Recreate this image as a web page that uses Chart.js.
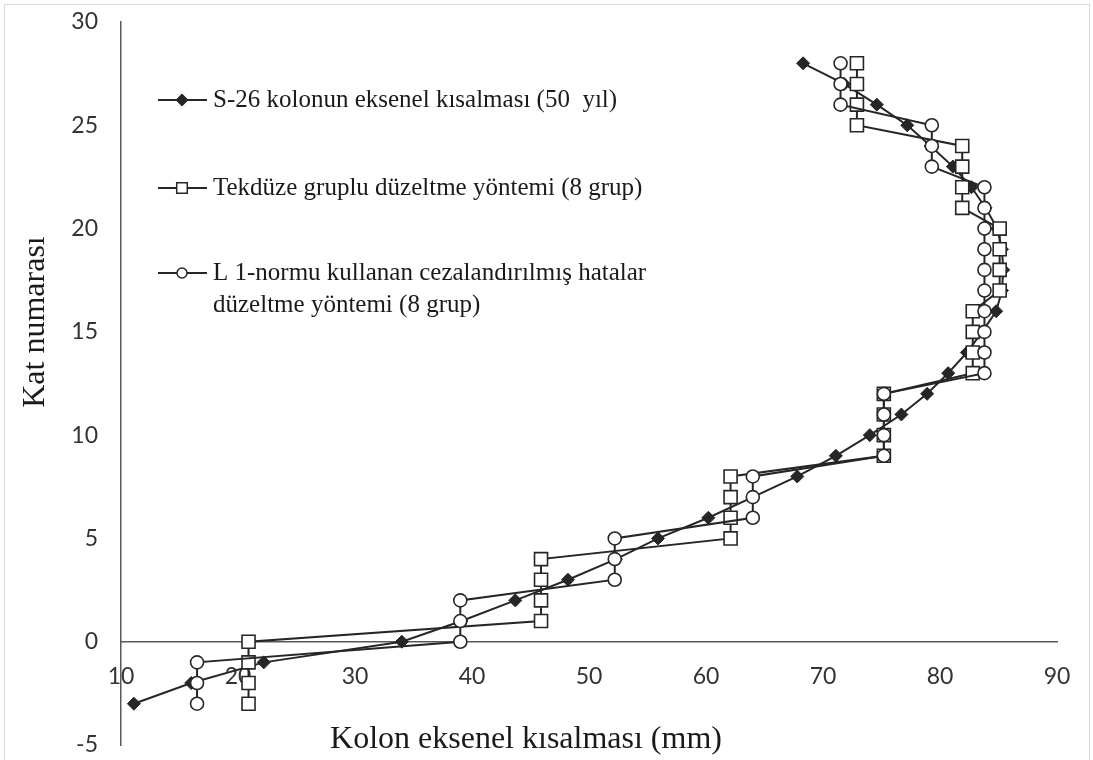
<!DOCTYPE html>
<html lang="tr">

<head>
  <meta charset="UTF-8" />
  <title>Kolon eksenel kısalması</title>
  <script src="https://cdn.jsdelivr.net/npm/chart.js"></script>
  <style>
    * {
      margin: 0;
      padding: 0;
      box-sizing: border-box;
    }

    body {
      background: #ffffff;
      width: 1093px;
      height: 760px;
      overflow: hidden;
    }
  </style>
</head>

<body>
  <canvas id="chart" width="1093" height="760"></canvas>

  <script>
    // kat numaraları (y ekseni)
    const floors = [-3, -2, -1, 0, 1, 2, 3, 4, 5, 6, 7, 8, 9, 10, 11, 12,
      13, 14, 15, 16, 17, 18, 19, 20, 21, 22, 23, 24, 25, 26, 27, 28];

    // S-26 kolonun eksenel kısalması (50 yıl), mm
    const s26Shortening = [11.1, 16.0, 22.2, 34.0, 39.1, 43.7, 48.2, 52.3, 55.9, 60.2, 64.0, 67.8,
      71.1, 74.0, 76.7, 78.9, 80.7, 82.3, 83.6, 84.8, 85.3, 85.4, 85.3, 84.9,
      83.9, 82.7, 81.1, 79.2, 77.2, 74.6, 71.8, 68.3];

    // Tekdüze gruplu düzeltme (8 grup)
    const uniformCorrection = [20.9, 20.9, 20.9, 20.9, 45.9, 45.9, 45.9, 45.9, 62.1, 62.1, 62.1, 62.1,
      75.2, 75.2, 75.2, 75.2, 82.8, 82.8, 82.8, 82.8, 85.1, 85.1, 85.1, 85.1,
      81.9, 81.9, 81.9, 81.9, 72.9, 72.9, 72.9, 72.9];

    // L1-normu cezalandırılmış hatalar düzeltme (8 grup)
    const l1Correction = [16.5, 16.5, 16.5, 39.0, 39.0, 39.0, 52.2, 52.2, 52.2, 64.0, 64.0, 64.0,
      75.2, 75.2, 75.2, 75.2, 83.8, 83.8, 83.8, 83.8, 83.8, 83.8, 83.8, 83.8,
      83.8, 83.8, 79.3, 79.3, 79.3, 71.5, 71.5, 71.5];

    const legendLabels = [
      ['S-26 kolonun eksenel kısalması (50  yıl)'],
      ['Tekdüze gruplu düzeltme yöntemi (8 grup)'],
      ['L 1-normu kullanan cezalandırılmış hatalar', 'düzeltme yöntemi (8 grup)']
    ];

    const xTitle = 'Kolon eksenel kısalması (mm)';
    const yTitle = 'Kat numarası';

    const ink = '#262626';

    function toPoints(values) {
      return floors.map((f, i) => ({ x: values[i], y: f }));
    }

    // frame, axis titles and the legend drawn straight on the canvas
    const decorations = {
      id: 'decorations',
      beforeDraw(chart) {
        const ctx = chart.ctx;
        ctx.save();
        ctx.strokeStyle = '#d9d9d9';
        ctx.lineWidth = 1;
        ctx.strokeRect(4.5, 4.5, 1085, 770);
        ctx.restore();
      },
      afterDraw(chart) {
        const ctx = chart.ctx;
        ctx.save();
        ctx.fillStyle = '#1a1a1a';

        // axis titles
        ctx.font = '32px "Liberation Serif", "Times New Roman", serif';
        ctx.textAlign = 'center';
        ctx.textBaseline = 'alphabetic';
        ctx.fillText(xTitle, 526, 748);

        ctx.save();
        ctx.translate(36, 322);
        ctx.rotate(-Math.PI / 2);
        ctx.textBaseline = 'middle';
        ctx.fillText(yTitle, 0, 0);
        ctx.restore();

        // legend
        const rows = [100, 188, 273];
        const lineGap = 32;
        ctx.font = '25px "Liberation Serif", "Times New Roman", serif';
        ctx.textAlign = 'left';
        ctx.textBaseline = 'middle';
        chart.data.datasets.forEach((ds) => {
          const y = rows[ds.legendRow];
          ctx.strokeStyle = ink;
          ctx.lineWidth = 2;
          ctx.beginPath();
          ctx.moveTo(158, y);
          ctx.lineTo(207, y);
          ctx.stroke();
          ctx.fillStyle = ds.pointBackgroundColor;
          ctx.strokeStyle = ink;
          ctx.lineWidth = 1.5;
          Chart.helpers.drawPoint(ctx, {
            pointStyle: ds.pointStyle,
            radius: ds.legendRadius,
            rotation: 0,
            borderWidth: 1.5
          }, 182, y);
          ctx.fillStyle = '#1a1a1a';
          legendLabels[ds.legendRow].forEach((line, k) => {
            ctx.fillText(line, 213, y + k * lineGap);
          });
        });
        ctx.restore();
      }
    };

    const tickFont = { family: 'Lato, "Open Sans", sans-serif', size: 23 };

    new Chart(document.getElementById('chart'), {
      type: 'scatter',
      data: {
        datasets: [
          {
            label: legendLabels[0][0],
            data: toPoints(s26Shortening),
            showLine: true,
            borderColor: ink,
            borderWidth: 2,
            pointStyle: 'rectRot',
            pointRadius: 6.5,
            pointBackgroundColor: ink,
            pointBorderColor: ink,
            pointBorderWidth: 1,
            legendRadius: 5.5,
            legendRow: 0,
            order: 3
          },
          {
            label: legendLabels[1][0],
            data: toPoints(uniformCorrection),
            showLine: true,
            borderColor: ink,
            borderWidth: 2,
            pointStyle: 'rect',
            pointRadius: 9.2,
            pointBackgroundColor: '#ffffff',
            pointBorderColor: ink,
            pointBorderWidth: 1.6,
            legendRadius: 7.5,
            legendRow: 1,
            order: 2
          },
          {
            label: legendLabels[2].join(' '),
            data: toPoints(l1Correction),
            showLine: true,
            borderColor: ink,
            borderWidth: 2,
            pointStyle: 'circle',
            pointRadius: 6.5,
            pointBackgroundColor: '#ffffff',
            pointBorderColor: ink,
            pointBorderWidth: 1.6,
            legendRadius: 5,
            legendRow: 2,
            order: 1
          }
        ]
      },
      options: {
        responsive: false,
        animation: false,
        devicePixelRatio: 1,
        events: [],
        layout: {
          padding: { left: 0, right: 36, top: 22, bottom: 15 }
        },
        plugins: {
          legend: { display: false },
          tooltip: { enabled: false },
          title: { display: false }
        },
        scales: {
          x: {
            type: 'linear',
            position: { y: 0 },
            min: 10,
            max: 90,
            grid: { display: false, drawTicks: false },
            border: { display: true, color: '#595959', width: 1.5 },
            ticks: {
              stepSize: 10,
              padding: 21,
              color: '#333333',
              font: tickFont,
              maxRotation: 0
            }
          },
          y: {
            type: 'linear',
            position: 'left',
            min: -5,
            max: 30,
            // invisible tick marks keep the labels clear of the axis line
            grid: {
              display: true,
              drawOnChartArea: false,
              drawTicks: true,
              tickLength: 23,
              color: 'rgba(0,0,0,0)'
            },
            border: { display: true, color: '#595959', width: 1.5 },
            ticks: {
              stepSize: 5,
              padding: 0,
              color: '#333333',
              font: tickFont
            },
            afterFit(scale) {
              scale.width = 121;
            }
          }
        }
      },
      plugins: [decorations]
    });
  </script>
</body>

</html>
